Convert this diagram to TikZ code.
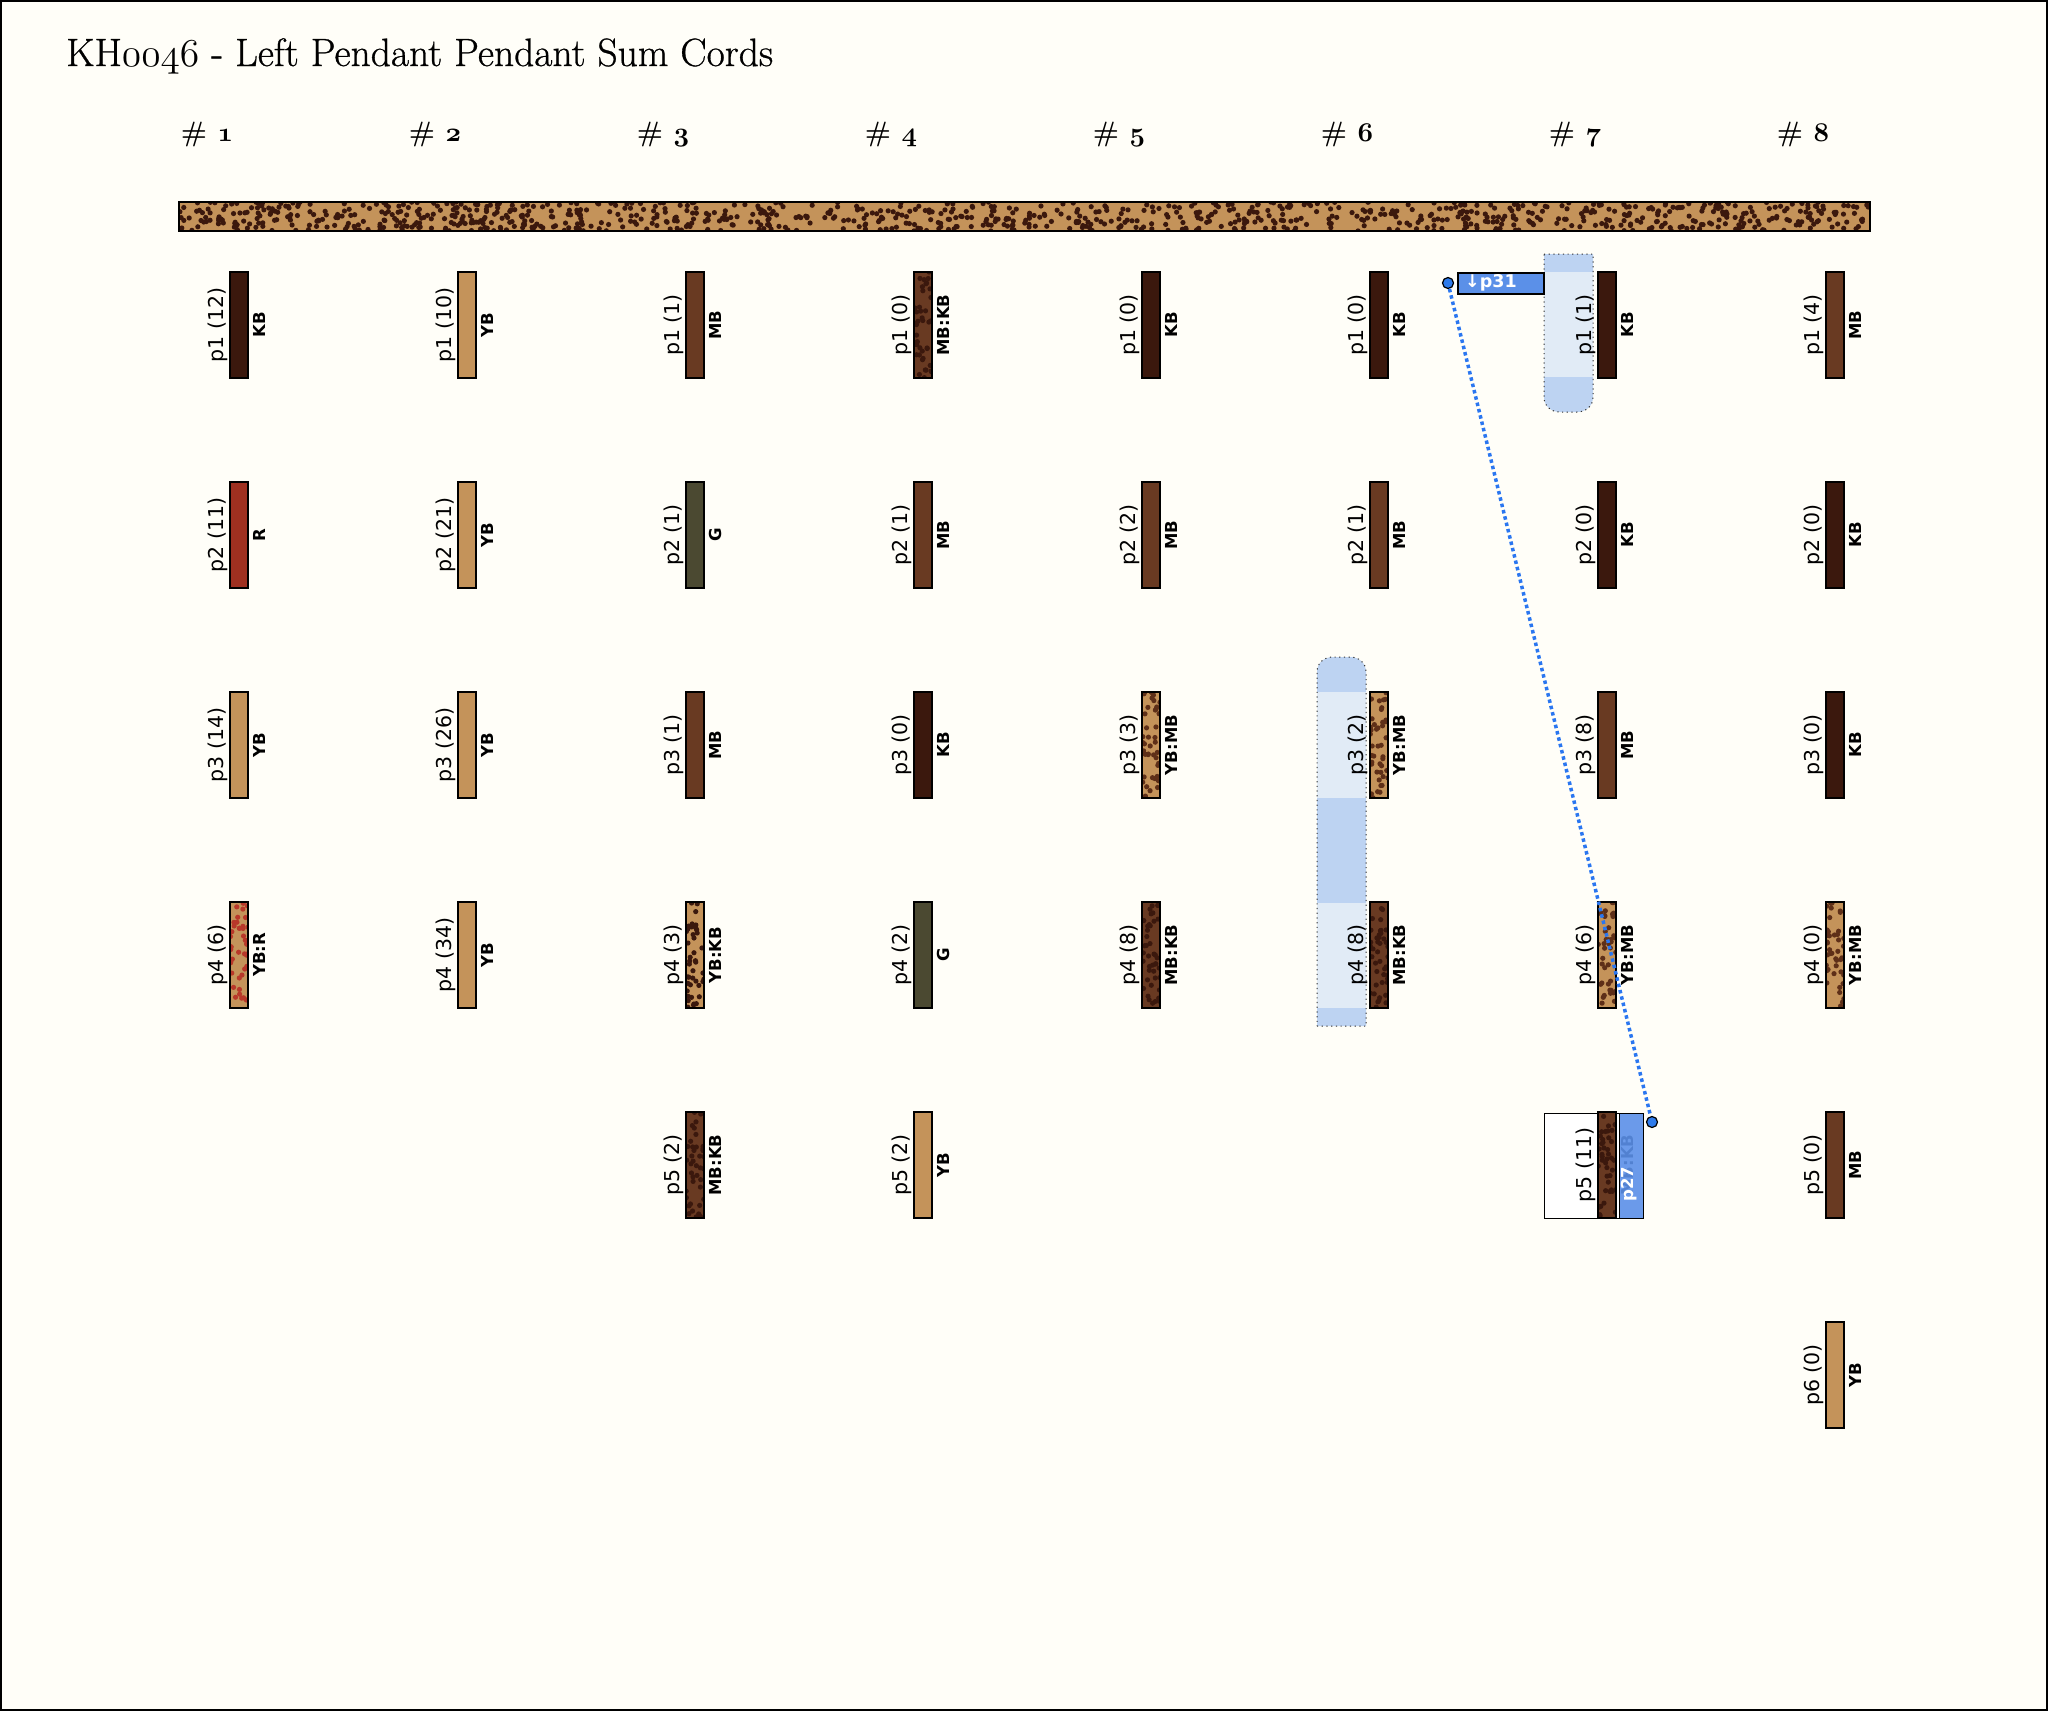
\documentclass[tikz,border=0pt]{standalone}
\usepackage{graphicx}
\usepackage{fontspec}
\newfontfamily\lab{DejaVu Sans}
\newfontfamily\titlefont[FakeBold=0.7]{Latin Modern Roman}
\newcommand\osn[1]{\scalebox{1.905}{\fontencoding{OML}\fontfamily{cmm}\fontseries{m}\fontshape{it}\fontsize{20.74}{20.74}\selectfont #1}}
\newcommand\osb[1]{\scalebox{1.875}{\fontencoding{OML}\fontfamily{cmm}\fontseries{b}\fontshape{it}\fontsize{14.4}{14.4}\selectfont #1}}
\definecolor{YB}{HTML}{C4935A}
\definecolor{KB}{HTML}{3B180D}
\definecolor{MB}{HTML}{693A22}
\definecolor{RR}{HTML}{9F3020}
\definecolor{GG}{HTML}{4B4931}
\definecolor{Rd}{HTML}{B8382A}
\definecolor{MBd}{HTML}{5E2F18}
\definecolor{Bg}{HTML}{FFFEF8}
\definecolor{HlMed}{HTML}{BDD3F2}
\definecolor{HlLight}{HTML}{E1EBF6}
\definecolor{BoxBlue}{HTML}{5B90E8}
\definecolor{DotBlue}{HTML}{2E7BEB}
\definecolor{LineBlue}{HTML}{2A76F0}
\tikzset{
  cordfill/.style={minimum width=18pt, minimum height=106pt, anchor=north west, inner sep=0pt, outer sep=0pt, draw=none},
  cordline/.style={line width=1.3pt, draw=black},
  plab/.style={rotate=90, anchor=south, inner sep=0pt, font=\lab\fontsize{20.5}{20.5}\selectfont},
  clab/.style={rotate=90, anchor=north, inner sep=0pt, font=\lab\bfseries\fontsize{16.5}{16.5}\selectfont},
  hdr/.style={anchor=base, inner sep=0pt, font=\fontsize{28}{28}\selectfont\bfseries},
  hlborder/.style={draw=black!80, line width=1pt, dash pattern=on 1.2pt off 3.5pt},
  dotend/.style={circle, minimum size=11pt, inner sep=0pt, fill=DotBlue, draw=black, line width=1.2pt},
}
\newcommand\speckle[7]{%
  \begin{scope}
  \clip (#1,#2) rectangle ++(#3,#4);
  \foreach \k in {1,...,#6}{%
    \pgfmathsetmacro\dx{#1+rnd*#3}%
    \pgfmathsetmacro\dy{#2+rnd*#4}%
    \fill[#5] (\dx,\dy) circle[radius=#7];
  }
  \end{scope}}
\newcommand\pcord[6]{%
  \pgfmathsetmacro\cx{230+228*(#2-1)}%
  \pgfmathsetmacro\cy{272+210*(#3-1)}%
  \node[cordfill, fill=#4] (#1) at (\cx,\cy) {};
  \draw[cordline] (#1.north west) rectangle (#1.south east);
  \node[plab] at ([xshift=-2pt]#1.west) {#5};
  \node[clab] at ([xshift=5pt]#1.east) {#6};
}
\newcommand\mcord[7]{%
  \pgfmathsetmacro\cx{230+228*(#2-1)}%
  \pgfmathsetmacro\cy{272+210*(#3-1)}%
  \node[cordfill, fill=#4] (#1) at (\cx,\cy) {};
  \speckle{\cx}{\cy}{18}{106}{#5}{42}{2.6pt}
  \draw[cordline] (#1.north west) rectangle (#1.south east);
  \node[plab] at ([xshift=-2pt]#1.west) {#6};
  \node[clab] at ([xshift=5pt]#1.east) {#7};
}
\begin{document}
\begin{tikzpicture}[x=1pt,y=-1pt]
\pgfmathsetseed{4242}
\useasboundingbox (0,0) rectangle (2048,1711);
\fill[Bg] (0,0) rectangle (2048,1711);
\draw[line width=2pt] (1,1) rectangle (2047,1710);
% title
\node[anchor=base west, inner sep=0pt, font=\titlefont\fontsize{39.5}{44}\selectfont] (title) at (66,66) {KH\osn{0046} - Left Pendant Pendant Sum Cords};
% headers
\foreach \i in {1,...,8}{
  \node[hdr] (hd\i) at ({207+228*(\i-1)},141) {\#~\osb{\i}};
}
% main bar
\node[anchor=north west, minimum width=1691pt, minimum height=29pt, inner sep=0pt, fill=YB] (bar) at (179,202) {};
\speckle{179}{202}{1691}{29}{KB}{1000}{2.6pt}
\draw[line width=2pt] (bar.north west) rectangle (bar.south east);
% highlights
\fill[HlMed] (1544,254) -- (1593,254) -- (1593,397) .. controls (1593,406) and (1586,412) .. (1577,412) -- (1560,412) .. controls (1551,412) and (1544,406) .. (1544,397) -- cycle;
\fill[HlLight] (1544,272) rectangle (1593,377);
\draw[hlborder] (1544,254) -- (1593,254) -- (1593,397) .. controls (1593,406) and (1586,412) .. (1577,412) -- (1560,412) .. controls (1551,412) and (1544,406) .. (1544,397) -- cycle;
\fill[HlMed] (1317,1026) -- (1366,1026) -- (1366,672) .. controls (1366,663) and (1359,657) .. (1350,657) -- (1333,657) .. controls (1324,657) and (1317,663) .. (1317,672) -- cycle;
\fill[HlLight] (1317,692) rectangle (1366,798);
\fill[HlLight] (1317,903) rectangle (1366,1008);
\draw[hlborder] (1317,1026) -- (1366,1026) -- (1366,672) .. controls (1366,663) and (1359,657) .. (1350,657) -- (1333,657) .. controls (1324,657) and (1317,663) .. (1317,672) -- cycle;
% white box behind #7 p5
\node[draw=black, line width=1.3pt, fill=white, anchor=north west, minimum width=99pt, minimum height=105pt, inner sep=0pt] (g5box) at (1544,1113) {};
% column 1
\pcord{a1}{1}{1}{KB}{p1 (12)}{KB}
\pcord{a2}{1}{2}{RR}{p2 (11)}{R}
\pcord{a3}{1}{3}{YB}{p3 (14)}{YB}
\mcord{a4}{1}{4}{YB}{Rd}{p4 (6)}{YB:R}
% column 2
\pcord{b1}{2}{1}{YB}{p1 (10)}{YB}
\pcord{b2}{2}{2}{YB}{p2 (21)}{YB}
\pcord{b3}{2}{3}{YB}{p3 (26)}{YB}
\pcord{b4}{2}{4}{YB}{p4 (34)}{YB}
% column 3
\pcord{c1}{3}{1}{MB}{p1 (1)}{MB}
\pcord{c2}{3}{2}{GG}{p2 (1)}{G}
\pcord{c3}{3}{3}{MB}{p3 (1)}{MB}
\mcord{c4}{3}{4}{YB}{KB}{p4 (3)}{YB:KB}
\mcord{c5}{3}{5}{MB}{KB}{p5 (2)}{MB:KB}
% column 4
\mcord{d1}{4}{1}{MB}{KB}{p1 (0)}{MB:KB}
\pcord{d2}{4}{2}{MB}{p2 (1)}{MB}
\pcord{d3}{4}{3}{KB}{p3 (0)}{KB}
\pcord{d4}{4}{4}{GG}{p4 (2)}{G}
\pcord{d5}{4}{5}{YB}{p5 (2)}{YB}
% column 5
\pcord{e1}{5}{1}{KB}{p1 (0)}{KB}
\pcord{e2}{5}{2}{MB}{p2 (2)}{MB}
\mcord{e3}{5}{3}{YB}{MBd}{p3 (3)}{YB:MB}
\mcord{e4}{5}{4}{MB}{KB}{p4 (8)}{MB:KB}
% column 6
\pcord{f1}{6}{1}{KB}{p1 (0)}{KB}
\pcord{f2}{6}{2}{MB}{p2 (1)}{MB}
\mcord{f3}{6}{3}{YB}{MBd}{p3 (2)}{YB:MB}
\mcord{f4}{6}{4}{MB}{KB}{p4 (8)}{MB:KB}
% column 7
\pcord{g1}{7}{1}{KB}{p1 (1)}{KB}
\pcord{g2}{7}{2}{KB}{p2 (0)}{KB}
\pcord{g3}{7}{3}{MB}{p3 (8)}{MB}
\mcord{g4}{7}{4}{YB}{MBd}{p4 (6)}{YB:MB}
\mcord{g5}{7}{5}{MB}{KB}{p5 (11)}{MB:KB}
% column 8
\pcord{h1}{8}{1}{MB}{p1 (4)}{MB}
\pcord{h2}{8}{2}{KB}{p2 (0)}{KB}
\pcord{h3}{8}{3}{KB}{p3 (0)}{KB}
\mcord{h4}{8}{4}{YB}{MBd}{p4 (0)}{YB:MB}
\pcord{h5}{8}{5}{MB}{p5 (0)}{MB}
\pcord{h6}{8}{6}{YB}{p6 (0)}{YB}
% blue overlay on #7 p5
\node[anchor=north west, minimum width=24pt, minimum height=105pt, inner sep=0pt, fill=BoxBlue, fill opacity=0.9, draw=black, draw opacity=1, line width=1.3pt] (p27) at (1619,1113) {};
\node[rotate=90, inner sep=0pt, text=white, font=\lab\bfseries\fontsize{16.5}{16.5}\selectfont] (p27t) at (1629,1184) {p27};
% p31 box
\node[anchor=north west, minimum width=86pt, minimum height=21pt, inner sep=0pt, fill=BoxBlue, draw=black, line width=1.5pt] (p31) at (1457,272) {};
\node[anchor=west, inner sep=0pt, text=white, font=\lab\bfseries\fontsize{17.5}{17.5}\selectfont] (p31t) at ([xshift=8pt]p31.west) {↓p31};
% connector
\node[dotend] (s1) at (1448,283) {};
\node[dotend] (s2) at (1652,1122) {};
\draw[LineBlue, line width=3.5pt, dash pattern=on 3.5pt off 3pt] (s1) -- (s2);
\end{tikzpicture}
\end{document}
